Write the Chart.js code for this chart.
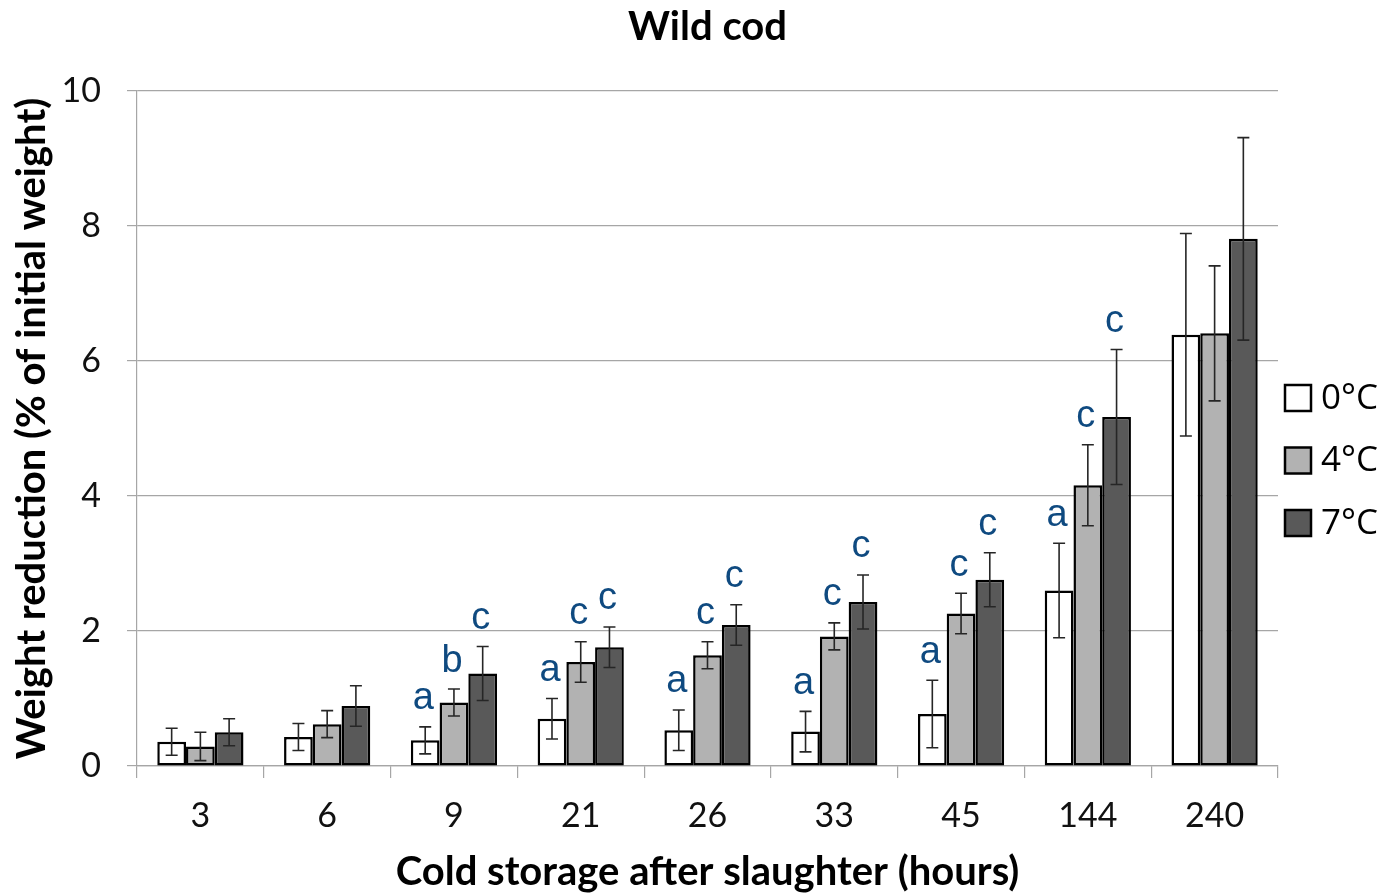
<!DOCTYPE html>
<html>
<head>
<meta charset="utf-8">
<style>
  html, body { margin: 0; padding: 0; background: #fff; }
  #wrap { width: 1389px; height: 896px; }
</style>
</head>
<body>
<div id="wrap">
    <canvas id="myChart" width="1389" height="896"></canvas>
</div>

<script src="https://cdn.jsdelivr.net/npm/chart.js"></script>
<script>
    var hours = ["3", "6", "9", "21", "26", "33", "45", "144", "240"]

    // mean weight reduction (% of initial weight)
    var t0 = [0.36, 0.43, 0.38, 0.70, 0.53, 0.51, 0.77, 2.60, 6.39]
    var t4 = [0.29, 0.62, 0.94, 1.54, 1.64, 1.92, 2.26, 4.16, 6.41]
    var t7 = [0.50, 0.89, 1.37, 1.76, 2.09, 2.43, 2.76, 5.17, 7.81]

    // error bar (+/-)
    var err0 = [0.20, 0.20, 0.20, 0.30, 0.30, 0.30, 0.50, 0.70, 1.50]
    var err4 = [0.21, 0.20, 0.20, 0.30, 0.20, 0.20, 0.30, 0.60, 1.00]
    var err7 = [0.20, 0.30, 0.40, 0.30, 0.30, 0.40, 0.40, 1.00, 1.50]

    // significance letters
    var sig0 = ["", "", "a", "a", "a", "a", "a", "a", ""]
    var sig4 = ["", "", "b", "c", "c", "c", "c", "c", ""]
    var sig7 = ["", "", "c", "c", "c", "c", "c", "c", ""]

    var yTicks = [0, 2, 4, 6, 8, 10]

    const errBars = {
      id: 'errBars',
      afterDatasetsDraw(chart) {
        const ctx = chart.ctx
        const y = chart.scales.y
        chart.data.datasets.forEach((ds, i) => {
          const meta = chart.getDatasetMeta(i)
          meta.data.forEach((bar, j) => {
            const v = ds.data[j], e = ds.err[j]
            const top = y.getPixelForValue(v + e)
            const bot = y.getPixelForValue(v - e)
            ctx.save()
            ctx.strokeStyle = '#262626'
            ctx.lineWidth = 1.6
            ctx.beginPath()
            ctx.moveTo(bar.x, top); ctx.lineTo(bar.x, bot)
            ctx.moveTo(bar.x - 6, top); ctx.lineTo(bar.x + 6, top)
            ctx.moveTo(bar.x - 6, bot); ctx.lineTo(bar.x + 6, bot)
            ctx.stroke()
            // letter over the bar
            if (ds.sig[j]) {
              ctx.fillStyle = '#0f4a80'
              ctx.font = '38px "Liberation Sans", Arial, sans-serif'
              ctx.textAlign = 'center'
              ctx.textBaseline = 'middle'
              ctx.fillText(ds.sig[j], bar.x - 2, top - 28)
            }
            ctx.restore()
          })
        })
      }
    }

    // legend on the right, boxes + labels
    const sideLegend = {
      id: 'sideLegend',
      afterDraw(chart) {
        const ctx = chart.ctx
        const area = chart.chartArea
        const mid = (area.top + area.bottom) / 2 + 32
        chart.data.datasets.forEach((ds, i) => {
          const cy = mid + (i - 1) * 62.5
          const x = area.right + 7
          ctx.save()
          ctx.fillStyle = ds.backgroundColor
          ctx.strokeStyle = '#000'
          ctx.lineWidth = 2.5
          ctx.fillRect(x, cy - 13, 26, 26)
          ctx.strokeRect(x, cy - 13, 26, 26)
          ctx.fillStyle = '#000'
          ctx.font = '35px "Open Sans", sans-serif'
          ctx.textAlign = 'left'
          ctx.textBaseline = 'middle'
          ctx.fillText(ds.label, x + 36, cy + 1)
          ctx.restore()
        })
      }
    }

    const ctx = document.getElementById('myChart');

    new Chart(ctx, {
      type: 'bar',
      data: {
        labels: hours,
        datasets: [
          { label: '0°C', data: t0, err: err0, sig: sig0, backgroundColor: '#ffffff' },
          { label: '4°C', data: t4, err: err4, sig: sig4, backgroundColor: '#b2b2b2' },
          { label: '7°C', data: t7, err: err7, sig: sig7, backgroundColor: '#595959' }
        ]
      },
      plugins: [errBars, sideLegend],
      options: {
        responsive: false,
        animation: false,
        devicePixelRatio: 1,
        datasets: {
          bar: {
            borderColor: '#000000',
            borderWidth: 2.5,
            borderSkipped: false,
            categoryPercentage: 0.68,
            barPercentage: 1.0
          }
        },
        layout: { padding: { left: 8, right: 111, top: 3, bottom: 0 } },
        plugins: {
          title: {
            display: true,
            text: 'Wild cod',
            fullSize: false,
            color: '#000',
            font: { family: 'Lato', size: 40, weight: 'bold' },
            padding: { top: 0, bottom: 40 }
          },
          legend: { display: false },
          tooltip: { enabled: false }
        },
        scales: {
          x: {
            afterFit: (scale) => { scale.height = 130 },
            grid: { display: true, drawOnChartArea: false, color: '#a6a6a6', tickLength: 12, lineWidth: 1.2 },
            border: { color: '#a6a6a6', width: 1.2 },
            ticks: { color: '#111', font: { family: 'Lato', size: 34 }, padding: 18 },
            title: {
              display: true,
              text: 'Cold storage after slaughter (hours)',
              color: '#000',
              font: { family: 'Lato', size: 40, weight: 'bold' },
              padding: { top: 0, bottom: 0 }
            }
          },
          y: {
            min: 0,
            max: 10,
            afterFit: (scale) => { scale.width = 129 },
            afterBuildTicks: (scale) => { scale.ticks = yTicks.map(v => ({ value: v })) },
            grid: { color: '#a6a6a6', tickLength: 10, lineWidth: 1.2 },
            border: { color: '#a6a6a6', width: 1.2 },
            ticks: { color: '#111', font: { family: 'Lato', size: 34 }, padding: 26 },
            title: {
              display: true,
              text: 'Weight reduction (% of initial weight)',
              color: '#000',
              font: { family: 'Lato', size: 40, weight: 'bold' },
              padding: { top: 0, bottom: 0 }
            }
          }
        }
      }
    });
</script>
</body>
</html>
